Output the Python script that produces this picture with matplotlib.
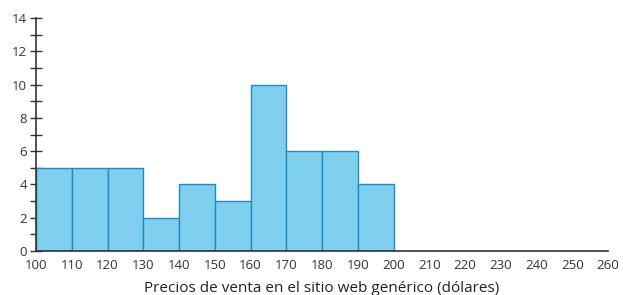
import matplotlib
matplotlib.use("Agg")
import matplotlib.pyplot as plt
import numpy as np

bin_edges = [100, 110, 120, 130, 140, 150, 160, 170, 180, 190, 200]
counts = [5, 5, 5, 2, 4, 3, 10, 6, 6, 4]
x_ticks = list(range(100, 261, 10))
y_ticks = list(range(0, 15, 2))
xlabel = "Precios de venta en el sitio web genérico (dólares)"

plt.rcParams['font.family'] = ['Open Sans', 'DejaVu Sans']

fig = plt.figure(figsize=(6.23, 2.95), dpi=100)
ax = fig.add_axes([36/623, 1-251/295, (608-36)/623, (251-18)/295])

left = np.array(bin_edges[:-1])
widths = np.diff(bin_edges)
ax.bar(left, counts, width=widths, align='edge', color='#80CFEE',
       edgecolor='#1C8DC2', linewidth=1.0, zorder=2)

ax.set_xlim(100, 260)
ax.set_ylim(0, 14)
ax.set_xticks(x_ticks)
ax.set_yticks(y_ticks)
ax.set_yticks(range(0, 15), minor=True)
ax.tick_params(axis='x', length=0, pad=6, labelsize=9.5, colors='#333333')
ax.tick_params(axis='y', which='both', direction='inout', length=9, width=1,
               color='#333333', labelsize=9.5, labelcolor='#333333', pad=2)
for s in ['top', 'right']:
    ax.spines[s].set_visible(False)
for s in ['left', 'bottom']:
    ax.spines[s].set_color('#333333')
    ax.spines[s].set_linewidth(1.2)
ax.set_xlabel(xlabel, fontsize=11, color='#222222', labelpad=6)

fig.savefig("out.png", dpi=100)
